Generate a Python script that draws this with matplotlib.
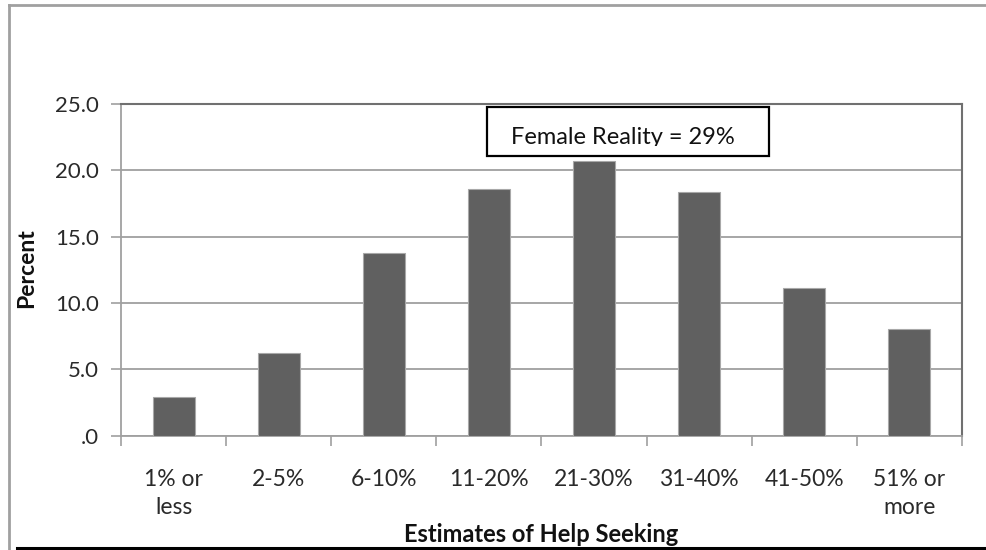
import matplotlib
matplotlib.use("Agg")
import matplotlib.pyplot as plt
from matplotlib.lines import Line2D
from matplotlib.patches import Rectangle
from matplotlib.transforms import Bbox, TransformedBbox

categories = ["1% or\nless", "2-5%", "6-10%", "11-20%", "21-30%", "31-40%", "41-50%", "51% or\nmore"]
percent = [2.9, 6.2, 13.8, 18.6, 20.7, 18.4, 11.1, 8.0]
yticks = [0, 5, 10, 15, 20, 25]
ytick_labels = [".0", "5.0", "10.0", "15.0", "20.0", "25.0"]
note_text = "Female Reality = 29%"

plt.rcParams["font.family"] = ["Lato", "DejaVu Sans"]

W, H = 987, 550
fig = plt.figure(figsize=(W / 100, H / 100), dpi=100)
fig.patch.set_facecolor("white")

def fx(px):
    return px / W

def fy(py):
    return 1 - py / H

ax = fig.add_axes([fx(121), fy(435.5), fx(962) - fx(121), fy(104) - fy(435.5)])

x = list(range(len(categories)))
ax.bar(x, percent, width=0.4, color="#606060", edgecolor="#a8a8a8", linewidth=0.8, zorder=3)

ax.set_xlim(-0.5, len(categories) - 0.5)
ax.set_ylim(0, 25)
ax.set_yticks(yticks)
ax.set_yticklabels(ytick_labels)
ax.yaxis.grid(True, color="#a6a6a6", linewidth=1.4, zorder=0)
ax.set_axisbelow(True)

ax.set_xticks(x)
ax.set_xticklabels(categories, linespacing=1.4)
ax.set_xticks([i - 0.5 for i in range(len(categories) + 1)], minor=True)
ax.tick_params(axis="x", which="major", length=0, pad=24, labelsize=16.5, labelcolor="#2a2a2a")
ax.tick_params(axis="x", which="minor", length=7, width=1.2, color="#a0a0a0", direction="out")
ax.tick_params(axis="y", length=7, width=1.2, color="#a0a0a0", pad=9, labelsize=16, labelcolor="#2a2a2a")

for side in ("left", "bottom"):
    ax.spines[side].set_color("#a0a0a0")
    ax.spines[side].set_linewidth(1.3)
for side in ("top", "right"):
    ax.spines[side].set_color("#707070")
    ax.spines[side].set_linewidth(1.5)

# y axis title
fig.text(fx(27), fy(268), "Percent", rotation=90, ha="center", va="center",
         fontsize=16.5, fontweight="bold", color="#111111")

# x axis title, partly covered by the rule underneath
fig.text(fx(541), fy(542), "Estimates of Help Seeking", ha="center", va="baseline",
         fontsize=17, fontweight="bold", color="#111111", zorder=1)

# annotation box
box = Rectangle((fx(487), fy(156)), fx(769) - fx(487), fy(107) - fy(156),
                transform=fig.transFigure, facecolor="white", edgecolor="black",
                linewidth=1.6, zorder=5)
fig.add_artist(box)
note = fig.text(fx(623), fy(143.5), note_text, ha="center", va="baseline",
                fontsize=17, color="#111111", zorder=6)
clip = TransformedBbox(Bbox([[fx(488), fy(146)], [fx(768), fy(108)]]), fig.transFigure)
note.set_clip_box(clip)
note.set_clip_on(True)

# outer frame
fig.add_artist(Line2D([fx(9), fx(9)], [fy(5), fy(550)], transform=fig.transFigure,
                      color="#a0a0a0", linewidth=2.0, zorder=10))
fig.add_artist(Line2D([fx(9), fx(987)], [fy(5), fy(5)], transform=fig.transFigure,
                      color="#a0a0a0", linewidth=2.0, zorder=10))
fig.add_artist(Line2D([fx(17), fx(987)], [fy(547.5), fy(547.5)], transform=fig.transFigure,
                      color="black", linewidth=2.2, zorder=10))

fig.savefig("out.png", dpi=100, facecolor="white")
